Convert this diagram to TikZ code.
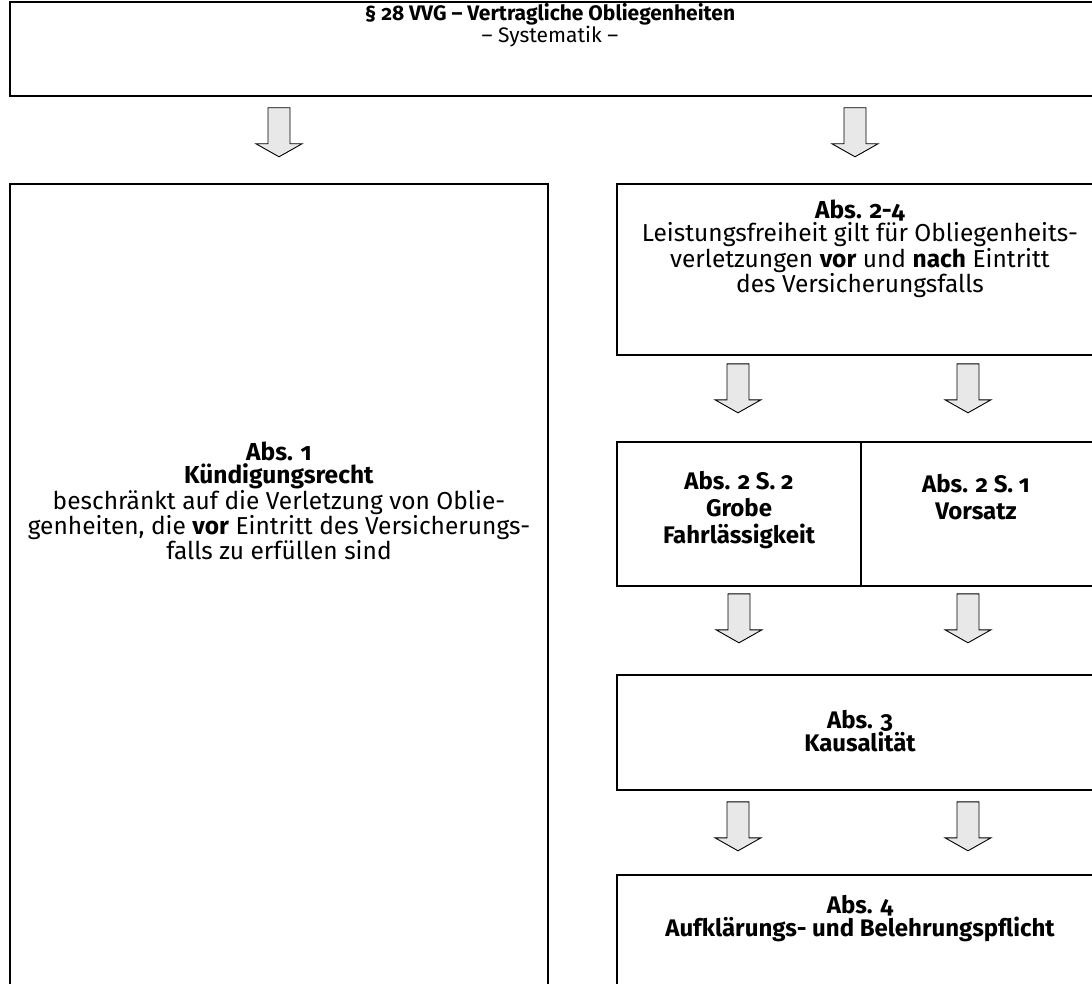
\documentclass[tikz,border=0pt]{standalone}
\usepackage{fontspec}
\setmainfont{Fira Sans}[Numbers=OldStyle]
\usetikzlibrary{fit,calc,positioning}

\begin{document}
\begin{tikzpicture}[x=1pt, y=1pt]
\tikzset{
    %Define style for boxes
    kasten/.style={
           rectangle,
           draw=black, line width=1.6pt,
           inner sep=0pt},
    % Define style for the box texts
    beschr/.style={
           align=center,
           font=\fontsize{24.5}{23}\selectfont,
           inner sep=0pt},
    % Define the grey block arrow
    pics/pfeil/.style={code={
           \draw[fill=black!9, line width=0.9pt, line join=miter]
             (-11,0) -- (11,0) -- (11,-36) -- (23,-36) -- (0,-49)
             -- (-23,-36) -- (-11,-36) -- cycle;}}
}
\useasboundingbox (0,0) rectangle (1092,-984);
\clip (0,0) rectangle (1092,-984);
 %boxes
 \node[kasten, fit={(10,-2) (1110,-96)}] (titel) {};
 \node[kasten, fit={(10,-184) (548,-1010)}] (kuend) {};
 \node[kasten, fit={(617,-184) (1105,-355)}] (abs24) {};
 \node[kasten, fit={(617,-442) (861,-586)}] (grob) {};
 \node[kasten, fit={(861,-442) (1105,-586)}] (vors) {};
 \node[kasten, fit={(617,-675) (1105,-790)}] (kaus) {};
 \node[kasten, fit={(617,-875) (1105,-1010)}] (aufkl) {};
 %texts
 \node[beschr, font=\fontsize{21}{21}\selectfont] (titeltext) at (550,-25)
   {\textbf{§ 28 VVG – Vertragliche Obliegenheiten}\\– Systematik –};
 \node[beschr] (kuendtext) at (279,-501)
   {\textbf{Abs. 1}\\\textbf{Kündigungsrecht}\\beschränkt auf die Verletzung von Oblie-\\
    genheiten, die \textbf{vor} Eintritt des Versicherungs-\\falls zu erfüllen sind};
 \node[beschr] (abs24text) at (860,-249)
   {\textbf{Abs. 2-4}\\Leistungsfreiheit gilt für Obliegenheits-\\
    verletzungen \textbf{vor} und \textbf{nach} Eintritt\\des Versicherungsfalls};
 \node[beschr, font=\bfseries\fontsize{24}{27}\selectfont] (grobtext) at (739,-510)
   {Abs. 2 S. 2\\Grobe\\Fahrlässigkeit};
 \node[beschr, font=\bfseries\fontsize{24}{27}\selectfont] (vorstext) at (976,-497)
   {Abs. 2 S. 1\\Vorsatz};
 \node[beschr, font=\bfseries\fontsize{24}{23}\selectfont] (kaustext) at (860,-731)
   {Abs. 3\\Kausalität};
 \node[beschr, font=\bfseries\fontsize{24}{23}\selectfont] (aufkltext) at (860,-919)
   {Abs. 4\\Aufklärungs- und Belehrungspflicht};
 %arrows
 \pic at ([yshift=-11pt]titel.south -| kuend.north) {pfeil};
 \pic at ([xshift=-6pt,yshift=-11pt]titel.south -| abs24.north) {pfeil};
 \pic at ([xshift=-123pt,yshift=-8pt]abs24.south) {pfeil};
 \pic at ([xshift=107pt,yshift=-8pt]abs24.south) {pfeil};
 \pic at ([yshift=-7pt]grob.south) {pfeil};
 \pic at ([xshift=-15pt,yshift=-7pt]vors.south) {pfeil};
 \pic at ([xshift=-123pt,yshift=-11pt]kaus.south) {pfeil};
 \pic at ([xshift=107pt,yshift=-11pt]kaus.south) {pfeil};
\end{tikzpicture}
\end{document}
